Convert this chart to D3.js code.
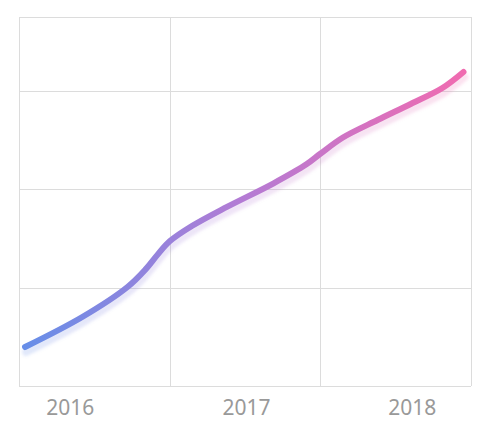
<!DOCTYPE html>
<meta charset="utf-8">
<style>
body { margin: 0; background: #fff; }
.grid line { stroke: #dcdcdc; shape-rendering: crispEdges; }
.grid path { stroke-width: 0; }
.label { fill: #999; font-family: "Noto Sans", "Open Sans", sans-serif; font-size: 21px; }
</style>
<body>
<script src="https://d3js.org/d3.v7.min.js"></script>
<script>

// data (x in years since the first gridline)
var xs = [0.04, 0.42, 0.72, 0.84, 0.92, 1.00, 1.15, 1.38, 1.69, 1.91, 2.00, 2.15, 2.38, 2.60, 2.81, 2.95];
var vals = [39.6, 70.1, 100.6, 118.5, 133.5, 147.0, 162.8, 182.0, 206.0, 225.5, 236.0, 252.5, 270.3, 286.6, 302.8, 319.1];
var yearLabels = ["2016", "2017", "2018"];
var yearPos = [0.34, 1.51, 2.61];
var xGrid = [0, 1, 2, 3];
var yGrid = [0, 100, 200, 300];

var margin = {top: 17, right: 14, bottom: 42, left: 19},
    width = 485 - margin.left - margin.right,
    height = 428 - margin.top - margin.bottom;

var x = d3.scaleLinear().domain([0, 3]).range([0, width]);
var y = d3.scaleLinear().domain([0, 375]).range([height, 0]);

var svg = d3.select("body").append("svg")
    .attr("width", 485)
    .attr("height", 428)
  .append("g")
    .attr("transform", "translate(" + margin.left + "," + margin.top + ")");

// gridlines
svg.append("g")
  .attr("class", "grid")
  .attr("transform", "translate(0," + height + ")")
  .call(d3.axisBottom(x).tickValues(xGrid).tickSize(-height).tickFormat(""));

svg.append("g")
  .attr("class", "grid")
  .call(d3.axisLeft(y).tickValues(yGrid).tickSize(-width).tickFormat(""));

svg.append("line")
  .attr("x1", 0).attr("x2", width)
  .attr("y1", 0.5).attr("y2", 0.5)
  .attr("stroke", "#dcdcdc");

// gradient for the line
var defs = svg.append("defs");
var grad = defs.append("linearGradient")
  .attr("id", "lineGrad")
  .attr("gradientUnits", "userSpaceOnUse")
  .attr("x1", x(xs[0])).attr("x2", x(xs[xs.length - 1]))
  .attr("y1", 0).attr("y2", 0);
grad.append("stop").attr("offset", "0%").attr("stop-color", "#678ee8");
grad.append("stop").attr("offset", "50%").attr("stop-color", "#b47bd4");
grad.append("stop").attr("offset", "100%").attr("stop-color", "#f06bb0");

defs.append("filter").attr("id", "blur")
  .append("feGaussianBlur").attr("stdDeviation", 1.8);

var pts = xs.map(function(d, i) { return [d, vals[i]]; });

var line = d3.line()
  .x(function(d) { return x(d[0]); })
  .y(function(d) { return y(d[1]); })
  .curve(d3.curveCatmullRom.alpha(0.5));

// soft shadow
svg.append("path")
  .datum(pts)
  .attr("d", line)
  .attr("transform", "translate(1,5)")
  .attr("fill", "none")
  .attr("stroke", "url(#lineGrad)")
  .attr("stroke-opacity", 0.2)
  .attr("stroke-width", 8)
  .attr("stroke-linecap", "round")
  .attr("filter", "url(#blur)");

svg.append("path")
  .datum(pts)
  .attr("d", line)
  .attr("fill", "none")
  .attr("stroke", "url(#lineGrad)")
  .attr("stroke-width", 6)
  .attr("stroke-linecap", "round")
  .attr("stroke-linejoin", "round");

// year labels
svg.selectAll(".label")
  .data(yearLabels)
  .enter().append("text")
  .attr("class", "label")
  .attr("text-anchor", "middle")
  .attr("x", function(d, i) { return x(yearPos[i]); })
  .attr("y", height + 29)
  .text(function(d) { return d; });

</script>
</body>
</html>
